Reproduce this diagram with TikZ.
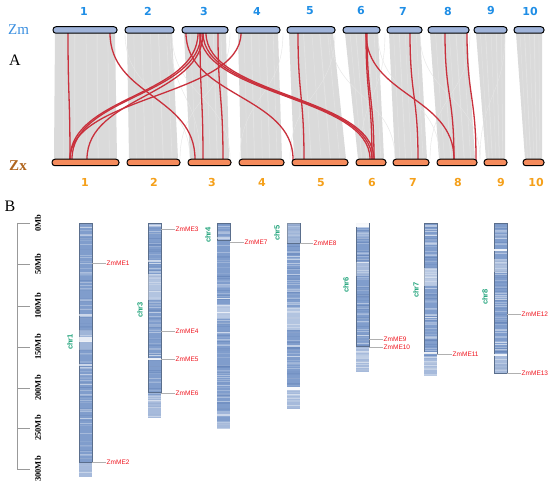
\documentclass[tikz,border=0pt]{standalone}
\usepackage{fontspec}
\setmainfont{Liberation Serif}
\setsansfont{DejaVu Sans}
\newfontfamily\lsans{Liberation Sans}
\usetikzlibrary{calc}
\definecolor{numblue}{HTML}{1F8EE6}
\definecolor{zmblue}{HTML}{3A8FE0}
\definecolor{zxbrown}{HTML}{B0651E}
\definecolor{numorange}{HTML}{F5A01A}
\definecolor{topbarc}{HTML}{A0B4DA}
\definecolor{botbarc}{HTML}{F58B5C}
\definecolor{redc}{HTML}{C9303C}
\definecolor{ribbonc}{HTML}{DADADA}
\definecolor{chrblue}{HTML}{809DCC}
\definecolor{chrdark}{HTML}{5F7FB5}
\definecolor{chrframe}{HTML}{5A6E8C}
\definecolor{chrgreen}{HTML}{1FA37A}
\definecolor{labred}{HTML}{F0141E}
\definecolor{leaderc}{HTML}{B0B0B0}
\definecolor{scalec}{HTML}{999999}
\newcommand\drawchrom[7]{%
  \node[chrbody, minimum height={(#5-#3)*1pt}, anchor=north west] (#1) at (#2,#3) {};
  \begin{scope}
    \clip (#2,#3) rectangle (#2+13,#5);
    \pgfmathsetseed{#6}
    \foreach \k in {1,...,80}{%
      \pgfmathsetmacro\yy{#3+rnd*(#5-#3)}%
      \pgfmathsetmacro\op{0.08+0.32*rnd}%
      \pgfmathsetmacro\lw{0.3+0.9*rnd}%
      \draw[white, opacity=\op, line width=\lw pt] (#2,\yy) -- (#2+13,\yy);
    }
    \foreach \k in {1,...,40}{%
      \pgfmathsetmacro\yy{#3+rnd*(#5-#3)}%
      \pgfmathsetmacro\op{0.1+0.35*rnd}%
      \pgfmathsetmacro\lw{0.4+1.2*rnd}%
      \draw[chrdark, opacity=\op, line width=\lw pt] (#2,\yy) -- (#2+13,\yy);
    }
    \fill[white, opacity=0.3] (#2,#7) rectangle (#2+13,#5);
  \end{scope}
  \draw[chrframe, line width=0.5pt] (#2,#3) rectangle (#2+13,#4);
}
\newcommand\wband[4]{\fill[white, opacity=#4] (#1,#2) rectangle (#1+13,#3);}
\newcommand\redS[2]{\draw[redl] (#1,30) -- (#1,33) .. controls +(0,63) and +(0,-63) .. (#2,159) -- (#2,162);}
\newcommand\faintS[2]{\draw[faint] (#1,33) .. controls +(0,63) and +(0,-63) .. (#2,159);}
\begin{document}
\begin{tikzpicture}[x=1pt,y=-1pt,
  zmbar/.style={draw=black, line width=1pt, fill=topbarc, rounded corners=3pt, minimum height=6.5pt, inner sep=0pt},
  zxbar/.style={draw=black, line width=1pt, fill=botbarc, rounded corners=3pt, minimum height=6.5pt, inner sep=0pt},
  ribbon/.style={fill=ribbonc},
  redl/.style={draw=redc, line width=1.3pt},
  faint/.style={draw=gray!20, line width=0.4pt},
  topnum/.style={font=\sffamily\bfseries\fontsize{11}{11}\selectfont, text=numblue, inner sep=0pt},
  botnum/.style={font=\sffamily\bfseries\fontsize{11}{11}\selectfont, text=numorange, inner sep=0pt},
  chrbody/.style={fill=chrblue, minimum width=13pt, inner sep=0pt, outer sep=0pt},
  chrlab/.style={font=\lsans\bfseries\fontsize{7.5}{7.5}\selectfont, text=chrgreen, rotate=90, inner sep=0pt},
  melab/.style={font=\lsans\fontsize{6.5}{6.5}\selectfont, text=labred, anchor=west, inner sep=0.5pt},
  leader/.style={draw=leaderc, line width=0.6pt},
  scalelab/.style={font=\bfseries\fontsize{8.5}{8.5}\selectfont, rotate=90, inner sep=0pt},
  scaleline/.style={draw=scalec, line width=0.8pt}
]
\useasboundingbox (0,0) rectangle (550,495);
\fill[white] (0,0) rectangle (550,495);

% ---------------- Part A: ribbons
\foreach \ta/\tb/\ba/\bb in {55/115/54/117, 127/172/129/178, 184/226/190/229, 238/278/241/282, 289/333/294/346, 345/378/358/384, 389/420/395/427, 430/467/439/475, 476/505/486/505, 516/542/525/542}{
  \fill[ribbon] (\ta,33) -- (\tb,33) -- (\bb,159) -- (\ba,159) -- cycle;
  \foreach \f/\w in {0.15/0.5,0.33/0.9,0.52/0.5,0.7/1.0,0.88/0.6}{
    \draw[white, opacity=0.22, line width=\w pt] ({\ta+\f*(\tb-\ta)},33) -- ({\ba+\f*(\bb-\ba)},159);
  }
}
% faint cross links
\faintS{170}{200}
\faintS{172}{230}
\faintS{125}{190}
\faintS{230}{180}
\faintS{283}{240}
\faintS{330}{395}
\faintS{378}{440}
\faintS{385}{360}
\faintS{470}{430}
\faintS{505}{480}
\faintS{420}{480}
\faintS{335}{290}

% red syntenic links
\redS{68}{70}
\redS{110}{195}
\redS{198}{70}
\redS{201}{72}
\redS{203}{87}
\redS{241}{70}
\redS{200}{203}
\redS{218}{223}
\redS{186}{293}
\redS{200}{370}
\redS{203}{372}
\redS{206}{374}
\redS{298}{304}
\redS{366}{372}
\redS{367}{374}
\redS{366}{454}
\redS{410}{418}
\redS{445}{454}
\redS{467}{476}

% bars
\foreach \n/\c/\w in {1/85/64, 2/149.5/49, 3/205/46, 4/258/44, 5/311/48, 6/361.5/37, 7/404.5/35, 8/448.5/41, 9/490.5/33, 10/529/30}{
  \node[zmbar, minimum width=\w pt] (t\n) at (\c,30) {};
}
\foreach \n/\c/\w in {1/85.5/67, 2/153.5/53, 3/209.5/43, 4/261.5/45, 5/320/56, 6/371/30, 7/411/36, 8/457/40, 9/495.5/23, 10/533.5/21}{
  \node[zxbar, minimum width=\w pt] (b\n) at (\c,162.5) {};
}
% numbers
\foreach \n/\c in {1/84, 2/148, 3/204, 4/257, 5/310, 6/361, 7/403, 8/448, 9/491, 10/530}{
  \node[topnum] (tn\n) at (\c,11) {\n};
}
\foreach \n/\c in {1/85, 2/154, 3/212, 4/262, 5/321, 6/372, 7/413, 8/458, 9/501, 10/536}{
  \node[botnum] (bn\n) at (\c,182.5) {\n};
}
\node[text=zmblue, font=\fontsize{15}{15}\selectfont, inner sep=0pt] (zm) at (18.5,30) {Zm};
\node[font=\fontsize{16}{16}\selectfont, inner sep=0pt] (la) at (15,60) {A};
\node[text=zxbrown, font=\bfseries\fontsize{15}{15}\selectfont, inner sep=0pt] (zx) at (18,166) {Zx};

% ---------------- Part B
\node[font=\fontsize{16}{16}\selectfont, inner sep=0pt] (lb) at (10,206) {B};
\coordinate (s0) at (17,223);
\coordinate (s300) at (17,469);
\draw[scaleline] (s0) -- (s300);
\foreach \v/\yy in {0/223, 50/264, 100/306, 150/347, 200/388, 250/428, 300/469}{
  \coordinate (sc\v) at (17,\yy);
  \draw[scaleline] (sc\v) -- ++(13,0);
  \node[scalelab] (sl\v) at (38,\yy) {\v Mb};
}

\drawchrom{c1}{79}{223}{462}{477}{11}{462}
\drawchrom{c3}{148}{223}{392}{418}{23}{395}
\drawchrom{c4}{217}{223}{240}{429}{37}{423}
\drawchrom{c5}{287}{223}{243}{409}{41}{390}
\drawchrom{c6}{356}{223}{346}{372}{53}{346}
\drawchrom{c7}{424}{223}{353}{376}{67}{356}
\drawchrom{c8}{494}{223}{373}{373}{71}{356}

% white bands
\wband{79}{337}{342}{0.75}
\wband{79}{314}{316}{0.6}
\wband{79}{364}{366}{0.6}
\wband{79}{330}{350}{0.25}
\wband{148}{274}{300}{0.4}
\wband{148}{358}{360}{0.85}
\wband{148}{260}{262}{0.6}
\wband{217}{305}{318}{0.45}
\wband{217}{237}{239}{0.5}
\wband{217}{414}{415.5}{0.6}
\wband{287}{308}{330}{0.4}
\wband{287}{387}{390}{0.95}
\wband{287}{223}{243}{0.25}
\wband{356}{223}{227}{0.95}
\wband{356}{262}{276}{0.3}
\wband{424}{268}{286}{0.45}
\wband{424}{352}{354}{0.85}
\wband{494}{249}{251}{0.85}
\wband{494}{259}{272}{0.35}
\wband{494}{354}{356}{0.85}

% chromosome labels
\node[chrlab] (l1) at (70,342) {chr1};
\node[chrlab] (l3) at (140,310) {chr3};
\node[chrlab] (l4) at (208,235) {chr4};
\node[chrlab] (l5) at (277,233) {chr5};
\node[chrlab] (l6) at (346,285) {chr6};
\node[chrlab] (l7) at (416,290) {chr7};
\node[chrlab] (l8) at (485,297) {chr8};

% gene labels
\foreach \m/\c/\xx/\yy in {1/c1/106/263, 2/c1/106/462, 3/c3/175/229, 4/c3/175/331, 5/c3/175/359, 6/c3/175/393, 7/c4/244/242, 8/c5/313/243, 9/c6/383/339, 10/c6/383/347, 11/c7/452/354, 12/c8/521/314, 13/c8/521/373}{
  \node[melab] (me\m) at (\xx,\yy) {ZmME\m};
  \draw[leader] (\c.east |- me\m.west) -- (me\m.west);
}
\end{tikzpicture}
\end{document}
